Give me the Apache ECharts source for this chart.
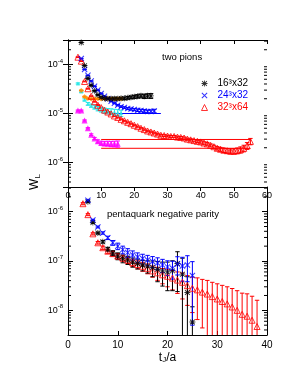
<!DOCTYPE html>
<html><head><meta charset="utf-8">
<script src="https://cdn.jsdelivr.net/npm/echarts@6/dist/echarts.min.js"></script>
<style>html,body{margin:0;padding:0;background:#fff}#c{width:298px;height:385px}</style>
</head><body><div id="c"></div>
<script>
const FONT = 'Liberation Sans, Arial, sans-serif';

// ---------- top panel: two pions ----------
const tBlackTop = [4,5,6,7,8,9,10,11,12,13,14,15,16,17,18,19,20,21,22,23,24,25];
const wBlackTop = [2.8e-4,9.5e-5,5.2e-5,3.8e-5,2.9e-5,2.4e-5,2.14e-5,2.04e-5,2.0e-5,2.0e-5,2.0e-5,2.0e-5,2.04e-5,2.04e-5,2.09e-5,2.14e-5,2.19e-5,2.24e-5,2.29e-5,2.24e-5,2.29e-5,2.29e-5];
const eBlackTop = [3e-6,1.5e-6,8e-7,6e-7,5e-7,5e-7,5e-7,6e-7,7e-7,8e-7,9e-7,1.0e-6,1.1e-6,1.2e-6,1.3e-6,1.4e-6,1.6e-6,1.8e-6,2.0e-6,2.2e-6,2.4e-6,2.6e-6];

const tBlueTop = [4,5,6,7,8,9,10,11,12,13,14,15,16,17,18,19,20,21,22,23,24,25,26];
const wBlueTop = [1.32e-4,7.9e-5,6.0e-5,4.6e-5,3.6e-5,3.0e-5,2.57e-5,2.24e-5,2.0e-5,1.78e-5,1.62e-5,1.48e-5,1.38e-5,1.32e-5,1.26e-5,1.23e-5,1.2e-5,1.17e-5,1.15e-5,1.12e-5,1.1e-5,1.1e-5,1.12e-5];
const eBlueTop = [1.5e-6,8e-7,6e-7,5e-7,4e-7,4e-7,4e-7,4e-7,4e-7,4e-7,4e-7,5e-7,5e-7,5e-7,6e-7,6e-7,6e-7,7e-7,7e-7,8e-7,8e-7,9e-7,1.0e-6];

const tRedTop = [3,4,5,6,7,8,9,10,11,12,13,14,15,16,17,18,19,20,21,22,23,24,25,26,27,28,29,30,31,32,33,34,35,36,37,38,39,40,41,42,43,44,45,46,47,48,49,50,51,52,53,54,55];
const wRedTop = [1.41e-4,1.17e-4,4.5e-5,3.2e-5,2.25e-5,1.74e-5,1.48e-5,1.32e-5,1.17e-5,1.07e-5,9.8e-6,8.9e-6,8.3e-6,7.6e-6,7.1e-6,6.6e-6,6.2e-6,5.75e-6,5.4e-6,5.0e-6,4.7e-6,4.4e-6,4.2e-6,4.0e-6,3.8e-6,3.6e-6,3.55e-6,3.47e-6,3.4e-6,3.4e-6,3.3e-6,3.25e-6,3.16e-6,3.0e-6,2.9e-6,2.8e-6,2.7e-6,2.63e-6,2.5e-6,2.4e-6,2.24e-6,2.1e-6,1.95e-6,1.86e-6,1.78e-6,1.74e-6,1.7e-6,1.7e-6,1.74e-6,1.82e-6,1.95e-6,2.2e-6,2.7e-6];
const eRedTop = [2.5e-6,2e-6,8e-7,6e-7,4.5e-7,3.5e-7,3e-7,2.6e-7,2.3e-7,2.1e-7,2e-7,1.9e-7,1.8e-7,1.7e-7,1.6e-7,1.6e-7,1.5e-7,1.5e-7,1.5e-7,1.5e-7,1.5e-7,1.5e-7,1.5e-7,1.5e-7,1.5e-7,1.5e-7,1.5e-7,1.5e-7,1.5e-7,1.5e-7,1.5e-7,1.5e-7,1.5e-7,1.5e-7,1.5e-7,1.5e-7,1.5e-7,1.5e-7,1.5e-7,1.5e-7,1.5e-7,1.5e-7,1.6e-7,1.7e-7,1.8e-7,1.9e-7,2.0e-7,2.1e-7,2.3e-7,2.6e-7,3.0e-7,3.5e-7,4.0e-7];

const tCyanTop = [3,4,5,6,7,8,9,10,11,12,13,14,15,16];
const wCyanTop = [4.1e-5,2.8e-5,1.9e-5,1.58e-5,1.45e-5,1.35e-5,1.26e-5,1.2e-5,1.15e-5,1.12e-5,1.1e-5,1.07e-5,1.05e-5,1.02e-5];
const eCyanTop = [1.2e-6,1.0e-6,9e-7,1.0e-6,1.1e-6,1.2e-6,1.3e-6,1.3e-6,1.4e-6,1.4e-6,1.5e-6,1.5e-6,1.5e-6,1.5e-6];

const tOrangeTop = [4,5,6,7,8,9,10,11,12,13,14,15,16];
const wOrangeTop = [2.95e-5,2.2e-5,2.02e-5,1.98e-5,2.0e-5,2.0e-5,1.98e-5,2.0e-5,2.02e-5,2.0e-5,1.98e-5,2.0e-5,2.0e-5];
const eOrangeTop = [6e-7,5e-7,5e-7,5e-7,5e-7,6e-7,6e-7,6e-7,7e-7,7e-7,8e-7,8e-7,9e-7];

const tMagentaTop = [3,4,5,6,7,8,9,10,11,12,13,14,15];
const wMagentaTop = [1.15e-5,1.15e-5,7.2e-6,5.0e-6,3.7e-6,3.1e-6,2.7e-6,2.5e-6,2.45e-6,2.45e-6,2.4e-6,2.4e-6,2.4e-6];
const eMagentaTop = [3e-7,3e-7,2e-7,1.5e-7,1.5e-7,1.5e-7,2e-7,2.2e-7,2.5e-7,2.7e-7,3e-7,3.2e-7,3.5e-7];

// fit lines [t start, t end, value]
const fitBlue = [14, 28, 1.0e-5];
const fitOrange = [6, 16, 2.0e-5];
const fitRedUpper = [10, 55, 2.95e-6];
const fitRedLower = [10, 55, 1.95e-6];

// ---------- bottom panel: pentaquark negative parity ----------
const tBlackBot = [4,5,6,7,8,9,10,11,12,13,14,15,16,17,18,19,20,21,22,23,24,25];
const wBlackBot = [1.58e-6,6.0e-7,3.7e-7,2.45e-7,1.74e-7,1.45e-7,1.26e-7,1.12e-7,1.05e-7,9.5e-8,8.9e-8,8.3e-8,7.9e-8,7.4e-8,6.8e-8,6.3e-8,6.0e-8,6.3e-8,8.9e-8,5.4e-8,2.3e-8,5.8e-9];
const eBlackBot = [3e-8,2e-8,1.5e-8,1.4e-8,1.5e-8,1.7e-8,2.0e-8,2.0e-8,2.0e-8,2.0e-8,2.0e-8,2.0e-8,2.2e-8,2.6e-8,3.0e-8,3.2e-8,3.5e-8,3.8e-8,6.5e-8,6e-8,2.5e-8,6e-9];

const tBlueBot = [4,5,6,7,8,9,10,11,12,13,14,15,16,17,18,19,20,21,22,23,24,25];
const wBlueBot = [1.7e-6,6.8e-7,4.9e-7,3.7e-7,2.95e-7,2.34e-7,2.0e-7,1.7e-7,1.48e-7,1.32e-7,1.2e-7,1.12e-7,1.05e-7,9.8e-8,9.1e-8,8.3e-8,7.6e-8,7.1e-8,8.7e-8,7.9e-8,8.3e-8,5.1e-8];
const eBlueBot = [4e-8,2e-8,2e-8,2e-8,2.3e-8,2.6e-8,3e-8,3e-8,3e-8,2.8e-8,2.6e-8,2.5e-8,2.5e-8,2.5e-8,2.5e-8,2.5e-8,2.5e-8,2.8e-8,3.5e-8,4e-8,4.5e-8,4.6e-8];

const tRedBot = [3,4,5,6,7,8,9,10,11,12,13,14,15,16,17,18,19,20,21,22,23,24,25,26,27,28,29,30,31,32,33,34,35,36,37,38];
const wRedBot = [1.45e-6,8.7e-7,3.55e-7,2.34e-7,1.86e-7,1.58e-7,1.41e-7,1.26e-7,1.15e-7,1.05e-7,9.3e-8,8.5e-8,7.8e-8,7.1e-8,6.3e-8,5.75e-8,5.25e-8,4.9e-8,4.5e-8,4.1e-8,3.7e-8,3.16e-8,2.8e-8,2.6e-8,2.34e-8,2.14e-8,1.9e-8,1.7e-8,1.51e-8,1.35e-8,1.17e-8,1.0e-8,8.3e-9,7.6e-9,6.3e-9,4.7e-9];
const eRedBot = [7e-8,4e-8,1.8e-8,1.4e-8,1.4e-8,1.5e-8,1.5e-8,1.6e-8,1.6e-8,1.6e-8,1.6e-8,1.6e-8,1.6e-8,1.6e-8,1.6e-8,1.7e-8,1.8e-8,1.9e-8,1.9e-8,1.9e-8,2.0e-8,1.9e-8,1.9e-8,1.95e-8,1.9e-8,1.9e-8,1.8e-8,1.75e-8,1.7e-8,1.65e-8,1.6e-8,1.5e-8,1.4e-8,1.4e-8,1.3e-8,1.13e-8];

// axis ranges
const xTopRange = [0, 60];
const xBotRange = [0, 40];
const yTopRange = [3.1623e-7, 3.1623e-4];
const yBotRange = [3.1623e-9, 3.1623e-6];
const xTicksTop = 10, xTicksBot = 10;

// legend labels
const legendNames = ['16\u00b3x32', '24\u00b3x32', '32\u00b3x64'];

const BLACK = '#000000', BLUE = '#0000ff', RED = '#ff0000', CYAN = '#22e6e6', ORANGE = '#ff8c00', MAGENTA = '#ff00ff';
const STAR = 'path://M4.3,0H5.7V10H4.3Z M0,4.3H10V5.7H0Z M1.5,0.5L9.5,8.5L8.5,9.5L0.5,1.5Z M8.5,0.5L9.5,1.5L1.5,9.5L0.5,8.5Z';
const CROSS = 'path://M1.2,0L10,8.8L8.8,10L0,1.2Z M8.8,0L10,1.2L1.2,10L0,8.8Z';
const OPEN_TRI = { color: 'rgba(255,255,255,0)', borderColor: RED, borderWidth: 1 };

function zip(t, w, e) { return t.map((v, i) => e ? [v, w[i], e[i]] : [v, w[i]]); }

function errRender(yMin, color) {
  return function (params, api) {
    const t = api.value(0), w = api.value(1), s = api.value(2);
    let lo = w - s, cut = false;
    if (lo <= yMin) { lo = yMin; cut = true; }
    const p1 = api.coord([t, w + s]), p0 = api.coord([t, lo]);
    const st = { stroke: color, lineWidth: 1 };
    const h = 2.2;
    const ch = [
      { type: 'line', shape: { x1: p1[0], y1: p1[1], x2: p0[0], y2: p0[1] }, style: st },
      { type: 'line', shape: { x1: p1[0] - h, y1: p1[1], x2: p1[0] + h, y2: p1[1] }, style: st }
    ];
    if (!cut) ch.push({ type: 'line', shape: { x1: p0[0] - h, y1: p0[1], x2: p0[0] + h, y2: p0[1] }, style: st });
    return { type: 'group', children: ch };
  };
}

function errSeries(gi, t, w, e, yMin, color) {
  return { type: 'custom', xAxisIndex: gi === 0 ? 0 : 2, yAxisIndex: gi === 0 ? 0 : 2, data: zip(t, w, e),
    encode: { x: 0, y: 1 }, renderItem: errRender(yMin, color), clip: true, silent: true, z: 2 };
}

function minorTickValues(range) {
  const out = [];
  const e0 = Math.floor(Math.log10(range[0])), e1 = Math.ceil(Math.log10(range[1]));
  for (let e = e0; e <= e1; e++) for (let m = 2; m <= 9; m++) {
    const v = m * Math.pow(10, e);
    if (v > range[0] && v < range[1]) out.push([0, v]);
  }
  return out;
}
function minorSeries(gi, xr, yr) {
  return { type: 'custom', xAxisIndex: gi === 0 ? 0 : 2, yAxisIndex: gi === 0 ? 0 : 2, data: minorTickValues(yr),
    encode: { x: 0, y: 1 }, silent: true, z: 3,
    renderItem: function (params, api) {
      const v = api.value(1);
      const a = api.coord([xr[0], v]), b = api.coord([xr[1], v]);
      const st = { stroke: '#000', lineWidth: 1 };
      return { type: 'group', children: [
        { type: 'line', shape: { x1: a[0], y1: a[1], x2: a[0] + 3, y2: a[1] }, style: st },
        { type: 'line', shape: { x1: b[0] - 3, y1: b[1], x2: b[0], y2: b[1] }, style: st }
      ] };
    } };
}

function lineSeries(fit, color) {
  return { type: 'line', xAxisIndex: 0, yAxisIndex: 0, data: [[fit[0], fit[2]], [fit[1], fit[2]]],
    symbol: 'none', lineStyle: { color: color, width: 1 }, silent: true, z: 1 };
}

const labelFmt = v => {
  const e = Math.log10(v), r = Math.round(e);
  if (Math.abs(e - r) > 1e-6) return '';
  return '{b|10}{s|' + r + '}';
};
const labelRich = {
  b: { fontSize: 9, fontFamily: FONT, color: '#000' },
  s: { fontSize: 6, fontFamily: FONT, color: '#000', padding: [0, 0, 7, 0] }
};

function yAx(gi, range, right) {
  return { type: 'log', gridIndex: gi, min: range[0], max: range[1], position: right ? 'right' : 'left',
    axisLine: { show: true, lineStyle: { color: '#000', width: 1 } },
    axisTick: { show: true, inside: true, length: 5, lineStyle: { color: '#000' } },
    axisLabel: right ? { show: false } : { show: true, formatter: labelFmt, rich: labelRich, margin: 5 },
    splitLine: { show: false } };
}

const chart = echarts.init(document.getElementById('c'), null, { renderer: 'canvas' });
chart.setOption({
  animation: false,
  backgroundColor: '#fff',
  grid: [
    { left: 68, top: 40, width: 199, height: 147, show: false },
    { left: 68, top: 187, width: 199, height: 148, show: false }
  ],
  xAxis: [
    { type: 'value', gridIndex: 0, min: xTopRange[0], max: xTopRange[1], interval: xTicksTop,
      axisLine: { lineStyle: { color: '#000' } }, axisTick: { inside: false, length: 4, lineStyle: { color: '#000' } },
      axisLabel: { fontSize: 9, fontFamily: FONT, color: '#000', margin: 4 }, splitLine: { show: false } },
    { type: 'value', gridIndex: 0, position: 'top', min: xTopRange[0], max: xTopRange[1], interval: xTicksTop,
      axisLine: { lineStyle: { color: '#000' } }, axisTick: { inside: true, length: 4, lineStyle: { color: '#000' } },
      axisLabel: { show: false }, splitLine: { show: false } },
    { type: 'value', gridIndex: 1, min: xBotRange[0], max: xBotRange[1], interval: xTicksBot,
      axisLine: { lineStyle: { color: '#000' } }, axisTick: { inside: true, length: 4, lineStyle: { color: '#000' } },
      axisLabel: { fontSize: 10, fontFamily: FONT, color: '#000', margin: 5 }, splitLine: { show: false },
      name: '{t|t}{j|J}{t|/a}', nameLocation: 'middle', nameGap: 16,
      nameTextStyle: { rich: { t: { fontSize: 12, fontFamily: FONT, color: '#000' }, j: { fontSize: 8, fontFamily: FONT, color: '#000', padding: [5, 0, 0, 0] } } } }
  ],
  yAxis: [ yAx(0, yTopRange, false), yAx(0, yTopRange, true), yAx(1, yBotRange, false), yAx(1, yBotRange, true) ],
  legend: {
    left: 196, top: 73, orient: 'vertical', itemWidth: 6, itemHeight: 6, itemGap: 1, selectedMode: false,
    textStyle: { fontSize: 10, fontFamily: FONT, lineHeight: 11, padding: [0, 0, 0, 5] },
    data: [
      { name: legendNames[0], icon: STAR, itemStyle: { color: BLACK }, textStyle: { color: BLACK } },
      { name: legendNames[1], icon: CROSS, itemStyle: { color: BLUE }, textStyle: { color: BLUE } },
      { name: legendNames[2], icon: 'triangle', itemStyle: OPEN_TRI, textStyle: { color: RED } }
    ]
  },
  graphic: [
    { type: 'text', left: 162, top: 52, style: { text: 'two pions', font: '9.5px ' + FONT, fill: '#000' } },
    { type: 'text', left: 107, top: 209, style: { text: 'pentaquark negative parity', font: '9.5px ' + FONT, fill: '#000' } },
    { type: 'text', x: 35, y: 182, rotation: Math.PI / 2,
      style: { text: '{w|W}{l|L}', align: 'center', verticalAlign: 'middle',
        rich: { w: { fontSize: 12, fontFamily: FONT, fill: '#000' }, l: { fontSize: 8, fontFamily: FONT, fill: '#000', padding: [6, 0, 0, 0] } } } }
  ],
  series: [
    minorSeries(0, xTopRange, yTopRange),
    minorSeries(1, xBotRange, yBotRange),
    lineSeries(fitRedUpper, RED), lineSeries(fitRedLower, RED),
    lineSeries(fitBlue, BLUE), lineSeries(fitOrange, ORANGE),
    errSeries(0, tRedTop, wRedTop, eRedTop, yTopRange[0], RED),
    errSeries(0, tMagentaTop, wMagentaTop, eMagentaTop, yTopRange[0], MAGENTA),
    errSeries(0, tCyanTop, wCyanTop, eCyanTop, yTopRange[0], CYAN),
    errSeries(0, tOrangeTop, wOrangeTop, eOrangeTop, yTopRange[0], ORANGE),
    errSeries(0, tBlueTop, wBlueTop, eBlueTop, yTopRange[0], BLUE),
    errSeries(0, tBlackTop, wBlackTop, eBlackTop, yTopRange[0], BLACK),
    { type: 'scatter', xAxisIndex: 0, yAxisIndex: 0, data: zip(tMagentaTop, wMagentaTop), symbol: 'triangle', symbolSize: 6, itemStyle: { color: MAGENTA }, z: 4 },
    { type: 'scatter', xAxisIndex: 0, yAxisIndex: 0, data: zip(tCyanTop, wCyanTop), symbol: 'triangle', symbolSize: 4, itemStyle: { color: CYAN }, z: 4 },
    { type: 'scatter', xAxisIndex: 0, yAxisIndex: 0, data: zip(tOrangeTop, wOrangeTop), symbol: 'diamond', symbolSize: 5, itemStyle: { color: ORANGE }, z: 4 },
    { name: legendNames[2], type: 'scatter', xAxisIndex: 0, yAxisIndex: 0, data: zip(tRedTop, wRedTop), symbol: 'triangle', symbolSize: 6, itemStyle: OPEN_TRI, z: 5 },
    { name: legendNames[1], type: 'scatter', xAxisIndex: 0, yAxisIndex: 0, data: zip(tBlueTop, wBlueTop), symbol: CROSS, symbolSize: 6, itemStyle: { color: BLUE }, z: 5 },
    { name: legendNames[0], type: 'scatter', xAxisIndex: 0, yAxisIndex: 0, data: zip(tBlackTop, wBlackTop), symbol: STAR, symbolSize: 6, itemStyle: { color: BLACK }, z: 6 },

    errSeries(1, tRedBot, wRedBot, eRedBot, yBotRange[0], RED),
    errSeries(1, tBlackBot, wBlackBot, eBlackBot, yBotRange[0], BLACK),
    errSeries(1, tBlueBot, wBlueBot, eBlueBot, yBotRange[0], BLUE),
    { name: legendNames[2], type: 'scatter', xAxisIndex: 2, yAxisIndex: 2, data: zip(tRedBot, wRedBot), symbol: 'triangle', symbolSize: 6, itemStyle: OPEN_TRI, z: 5 },
    { name: legendNames[0], type: 'scatter', xAxisIndex: 2, yAxisIndex: 2, data: zip(tBlackBot, wBlackBot), symbol: STAR, symbolSize: 6, itemStyle: { color: BLACK }, z: 6 },
    { name: legendNames[1], type: 'scatter', xAxisIndex: 2, yAxisIndex: 2, data: zip(tBlueBot, wBlueBot), symbol: CROSS, symbolSize: 6, itemStyle: { color: BLUE }, z: 6 }
  ]
});
</script></body></html>
